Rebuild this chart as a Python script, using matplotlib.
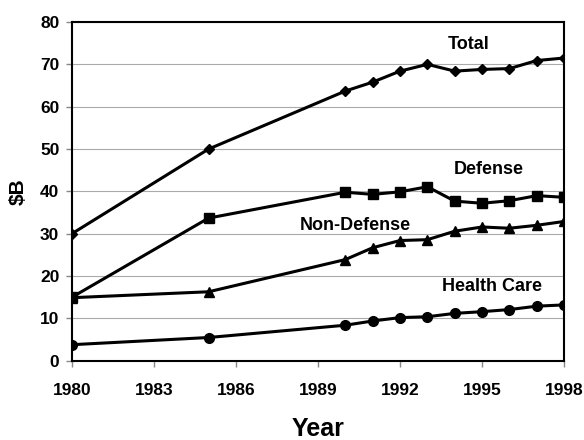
import matplotlib
matplotlib.use("Agg")
import matplotlib.pyplot as plt

plt.rcParams['font.family'] = ['Liberation Sans', 'DejaVu Sans']
plt.rcParams['font.weight'] = 'bold'

years = [1980, 1985, 1990, 1991, 1992, 1993, 1994, 1995, 1996, 1997, 1998]
total = [30.0, 50.0, 63.7, 65.8, 68.4, 70.0, 68.4, 68.8, 69.0, 70.9, 71.5]
defense = [15.0, 33.7, 39.8, 39.3, 39.9, 41.1, 37.7, 37.2, 37.8, 39.0, 38.6]
non_defense = [14.9, 16.3, 23.9, 26.7, 28.4, 28.6, 30.6, 31.6, 31.3, 32.0, 32.9]
health_care = [3.8, 5.5, 8.4, 9.4, 10.2, 10.4, 11.2, 11.6, 12.1, 12.9, 13.2]

labels = ["Total", "Defense", "Non-Defense", "Health Care"]
label_pos = [(1994.5, 74.6), (1995.25, 45.2), (1990.35, 31.9), (1995.35, 17.6)]

fig = plt.figure(figsize=(5.84, 4.4), dpi=100)
ax = fig.add_axes([0.123, 0.180, 0.843, 0.770])

ax.plot(years, total, color='black', lw=2.2, marker='D', ms=5.5)
ax.plot(years, defense, color='black', lw=2.2, marker='s', ms=7)
ax.plot(years, non_defense, color='black', lw=2.2, marker='^', ms=7)
ax.plot(years, health_care, color='black', lw=2.2, marker='o', ms=7)

for txt, (x, y) in zip(labels, label_pos):
    ax.text(x, y, txt, ha='center', va='center', fontsize=13, fontweight='bold')

ax.set_xlim(1980, 1998)
ax.set_ylim(0, 80)
ax.set_xticks(range(1980, 1999, 3))
ax.set_yticks(range(0, 81, 10))
ax.yaxis.grid(True, color='#aaaaaa', lw=0.8)
ax.set_axisbelow(True)
for s in ax.spines.values():
    s.set_linewidth(1.5)
ax.tick_params(labelsize=12.5, length=4, width=1.0, color='#888888')
ax.tick_params(axis='x', pad=12)
ax.tick_params(axis='y', pad=5)
ax.set_xlabel("Year", fontsize=18, fontweight='bold', labelpad=14)
ax.set_ylabel("$B", fontsize=15, fontweight='bold', labelpad=9)

fig.savefig("out.png", dpi=100)
